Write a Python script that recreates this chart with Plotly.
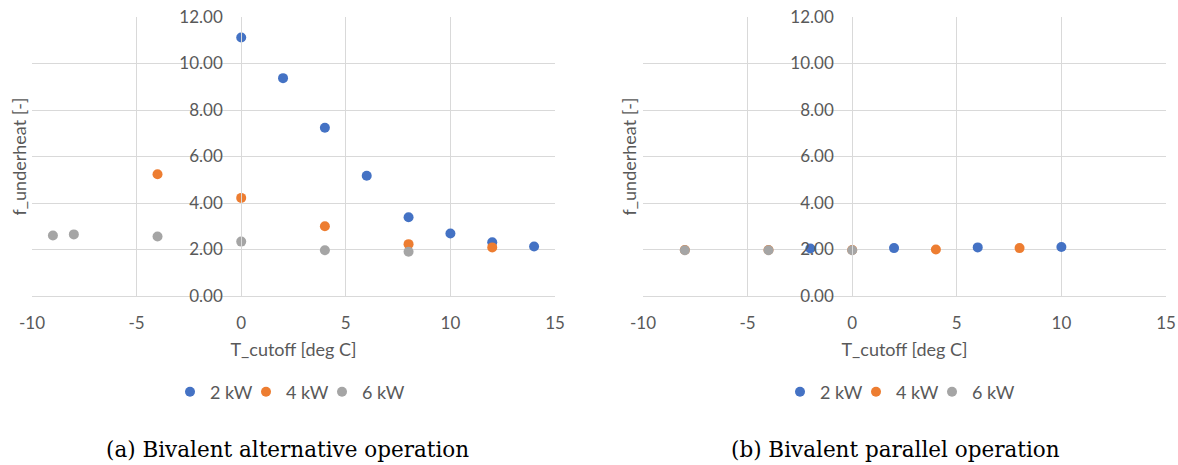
import plotly.graph_objects as go

# ---- data: (a) Bivalent alternative operation ----
a_2kw_x = [0, 2, 4, 6, 8, 10, 12, 14]
a_2kw_y = [11.12, 9.37, 7.24, 5.17, 3.39, 2.69, 2.31, 2.13]
a_4kw_x = [-4, 0, 4, 8, 12]
a_4kw_y = [5.24, 4.22, 3.00, 2.23, 2.09]
a_6kw_x = [-9, -8, -4, 0, 4, 8]
a_6kw_y = [2.60, 2.65, 2.56, 2.34, 1.97, 1.90]

# ---- data: (b) Bivalent parallel operation ----
b_2kw_x = [-2, 2, 6, 10]
b_2kw_y = [2.04, 2.06, 2.09, 2.11]
b_4kw_x = [-8, -4, 0, 4, 8]
b_4kw_y = [1.98, 1.98, 1.98, 2.00, 2.06]
b_6kw_x = [-8, -4, 0]
b_6kw_y = [1.97, 1.97, 1.97]

series_names = ["2 kW", "4 kW", "6 kW"]
colors = ["#4472C4", "#ED7D31", "#A5A5A5"]

x_ticks = [-10, -5, 0, 5, 10, 15]
x_tick_labels = ["-10", "-5", "0", "5", "10", "15"]
y_ticks = [0, 2, 4, 6, 8, 10, 12]

captions = ["(a) Bivalent alternative operation", "(b) Bivalent parallel operation"]

W, H = 1178, 465
FONT = "Lato"
TXT = "#595959"
GRID = "#D9D9D9"

# pixel geometry -> paper fractions
px = lambda v: v / W
py = lambda v: 1 - v / H
xdoms = [(32, 555), (643, 1166)]
ytop, ybot = 17, 296
cap_centers = [287, 895]
ytitle_x = [18, 628]
legend_item_px = [[170, 246, 322], [780, 856, 932]]

fig = go.Figure()

panels = [
    ([a_2kw_x, a_4kw_x, a_6kw_x], [a_2kw_y, a_4kw_y, a_6kw_y], "x", "y"),
    ([b_2kw_x, b_4kw_x, b_6kw_x], [b_2kw_y, b_4kw_y, b_6kw_y], "x2", "y2"),
]
legend_layout = {}
k = 0
for p, (xs, ys, xa, ya) in enumerate(panels):
    for j, (name, col, x, y) in enumerate(zip(series_names, colors, xs, ys)):
        k += 1
        lg = "legend" if k == 1 else f"legend{k}"
        fig.add_trace(go.Scatter(
            x=x, y=y, mode="markers", name=name, xaxis=xa, yaxis=ya, legend=lg,
            marker=dict(color=col, size=10),
        ))
        legend_layout[lg] = dict(
            orientation="h", xanchor="left", yanchor="middle",
            x=px(legend_item_px[p][j]), y=py(392),
            font=dict(family=FONT, size=18, color=TXT), bgcolor="rgba(0,0,0,0)",
            itemclick=False, itemdoubleclick=False,
        )

def x0pos(dom):
    l, r = dom
    return px(l + (r - l) * (10 / 25))

axis_common = dict(
    showgrid=True, gridcolor=GRID, gridwidth=1, zeroline=False,
    tickfont=dict(family=FONT, size=17, color=TXT),
    fixedrange=True,
)

for i, dom in enumerate(xdoms):
    sfx = "" if i == 0 else "2"
    fig.update_layout(**{
        f"xaxis{sfx}": dict(
            domain=[px(dom[0]), px(dom[1])], range=[-10, 15],
            tickvals=x_ticks, ticktext=x_tick_labels,
            anchor=f"y{sfx}", showline=True, linecolor=GRID, linewidth=1,
            ticklabelstandoff=12,
            title=dict(text="T_cutoff [deg C]", font=dict(family=FONT, size=18, color=TXT), standoff=10),
            automargin=False, **axis_common,
        ),
        f"yaxis{sfx}": dict(
            domain=[py(ybot), py(ytop)], range=[0, 12], tickvals=y_ticks, tickformat=".2f",
            anchor="free", position=x0pos(dom), showline=True, linecolor=GRID, linewidth=1,
            ticklabelstandoff=15, automargin=False, **axis_common,
        ),
    })
    # y-axis title
    fig.add_annotation(
        text="f_underheat [-]", textangle=-90, xref="paper", yref="paper",
        x=px(ytitle_x[i]), y=py((ytop + ybot) / 2), xanchor="center", yanchor="middle",
        showarrow=False, font=dict(family=FONT, size=18, color=TXT),
    )
    # caption
    fig.add_annotation(
        text=captions[i], xref="paper", yref="paper",
        x=px(cap_centers[i]), y=py(449), xanchor="center", yanchor="middle",
        showarrow=False, font=dict(family="DejaVu Serif", size=21.5, color="#000000"),
    )

fig.update_layout(
    width=W, height=H, margin=dict(l=0, r=0, t=0, b=0),
    paper_bgcolor="white", plot_bgcolor="white",
    showlegend=True,
    **legend_layout,
)

fig.write_html("out.html")
